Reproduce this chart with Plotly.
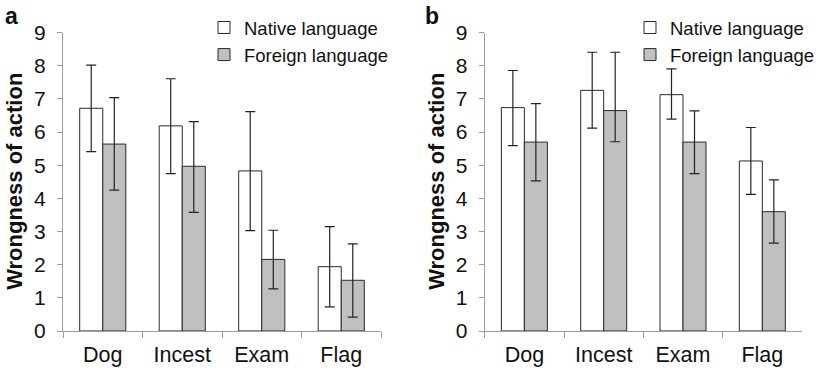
import plotly.graph_objects as go

categories = ["Dog", "Incest", "Exam", "Flag"]
series_names = ["Native language", "Foreign language"]

# Panel a
a_native = [6.72, 6.19, 4.83, 1.94]
a_native_err_plus = [1.30, 1.42, 1.79, 1.21]
a_native_err_minus = [1.31, 1.44, 1.80, 1.21]
a_foreign = [5.64, 4.97, 2.16, 1.53]
a_foreign_err_plus = [1.40, 1.35, 0.88, 1.10]
a_foreign_err_minus = [1.39, 1.39, 0.89, 1.11]

# Panel b
b_native = [6.74, 7.26, 7.13, 5.13]
b_native_err_plus = [1.12, 1.15, 0.78, 1.01]
b_native_err_minus = [1.15, 1.14, 0.74, 1.01]
b_foreign = [5.70, 6.65, 5.70, 3.60]
b_foreign_err_plus = [1.16, 1.76, 0.94, 0.96]
b_foreign_err_minus = [1.17, 0.94, 0.95, 0.95]

panel_labels = ["a", "b"]
y_title = "Wrongness of action"
y_ticks = list(range(0, 10))

FONT = "Liberation Sans, Arial, Helvetica, sans-serif"
W, H = 816, 386
AXIS_COLOR = "#9c9c9c"
OUTLINE = "#2a2a2a"
GRAY_FILL = "#c0c0c0"
ERR_COLOR = "#222222"

fig = go.Figure()

def add_panel(native, n_plus, n_minus, foreign, f_plus, f_minus, xa, ya, legend):
    fig.add_trace(go.Bar(
        x=categories, y=native, name=series_names[0],
        marker=dict(color="white", line=dict(color=OUTLINE, width=1)),
        error_y=dict(type="data", array=n_plus, arrayminus=n_minus, symmetric=False,
                     color=ERR_COLOR, thickness=1.2, width=5),
        xaxis=xa, yaxis=ya, legend=legend,
    ))
    fig.add_trace(go.Bar(
        x=categories, y=foreign, name=series_names[1],
        marker=dict(color=GRAY_FILL, line=dict(color=OUTLINE, width=1)),
        error_y=dict(type="data", array=f_plus, arrayminus=f_minus, symmetric=False,
                     color=ERR_COLOR, thickness=1.2, width=5),
        xaxis=xa, yaxis=ya, legend=legend,
    ))

add_panel(a_native, a_native_err_plus, a_native_err_minus,
          a_foreign, a_foreign_err_plus, a_foreign_err_minus, "x", "y", "legend")
add_panel(b_native, b_native_err_plus, b_native_err_minus,
          b_foreign, b_foreign_err_plus, b_foreign_err_minus, "x2", "y2", "legend2")

ydom = [1 - 331 / H, 1 - 32.7 / H]
xdom_a = [63 / W, 381 / W]
xdom_b = [484.7 / W, 802 / W]

xaxis_common = dict(
    showline=True, linecolor=AXIS_COLOR, linewidth=1.3,
    ticks="outside", ticklen=6, tickcolor=AXIS_COLOR, tickwidth=1.3,
    tickson="boundaries", showgrid=False, zeroline=False,
    tickfont=dict(family=FONT, size=21.5, color="#111"),
    ticklabelstandoff=4,
)
yaxis_common = dict(
    range=[0, 9], tickvals=y_ticks, showline=True, linecolor=AXIS_COLOR, linewidth=1.3,
    ticks="outside", ticklen=5, tickcolor=AXIS_COLOR, tickwidth=1.3,
    showgrid=False, zeroline=False,
    tickfont=dict(family=FONT, size=21, color="#111"),
    ticklabelstandoff=7,
)

legend_common = dict(
    font=dict(family=FONT, size=18.5, color="#111"),
    bgcolor="rgba(0,0,0,0)", borderwidth=0,
    xanchor="left", yanchor="top", tracegroupgap=0,
)

fig.update_layout(
    width=W, height=H,
    margin=dict(l=0, r=0, t=0, b=0, autoexpand=False),
    paper_bgcolor="white", plot_bgcolor="white",
    barmode="group", bargap=0.42, bargroupgap=0,
    xaxis=dict(domain=xdom_a, anchor="y", **xaxis_common),
    yaxis=dict(domain=ydom, anchor="x", **yaxis_common),
    xaxis2=dict(domain=xdom_b, anchor="y2", **xaxis_common),
    yaxis2=dict(domain=ydom, anchor="x2", **yaxis_common),
    legend=dict(x=204 / W, y=1 - 9 / H, **legend_common),
    legend2=dict(x=630 / W, y=1 - 9 / H, **legend_common),
    showlegend=True,
)

# Panel letters and y-axis titles
for label, xpx in zip(panel_labels, [3, 423]):
    fig.add_annotation(text=label, x=xpx / W, y=1 - 1 / H, xref="paper", yref="paper",
                       xanchor="left", yanchor="top", showarrow=False,
                       font=dict(family=FONT, size=23, color="#111", weight="bold"))
for xpx in [15, 437]:
    fig.add_annotation(text=y_title, x=xpx / W, y=(ydom[0] + ydom[1]) / 2,
                       xref="paper", yref="paper", xanchor="center", yanchor="middle",
                       textangle=-90, showarrow=False,
                       font=dict(family=FONT, size=22, color="#111", weight="bold"))

fig.write_html("out.html")
